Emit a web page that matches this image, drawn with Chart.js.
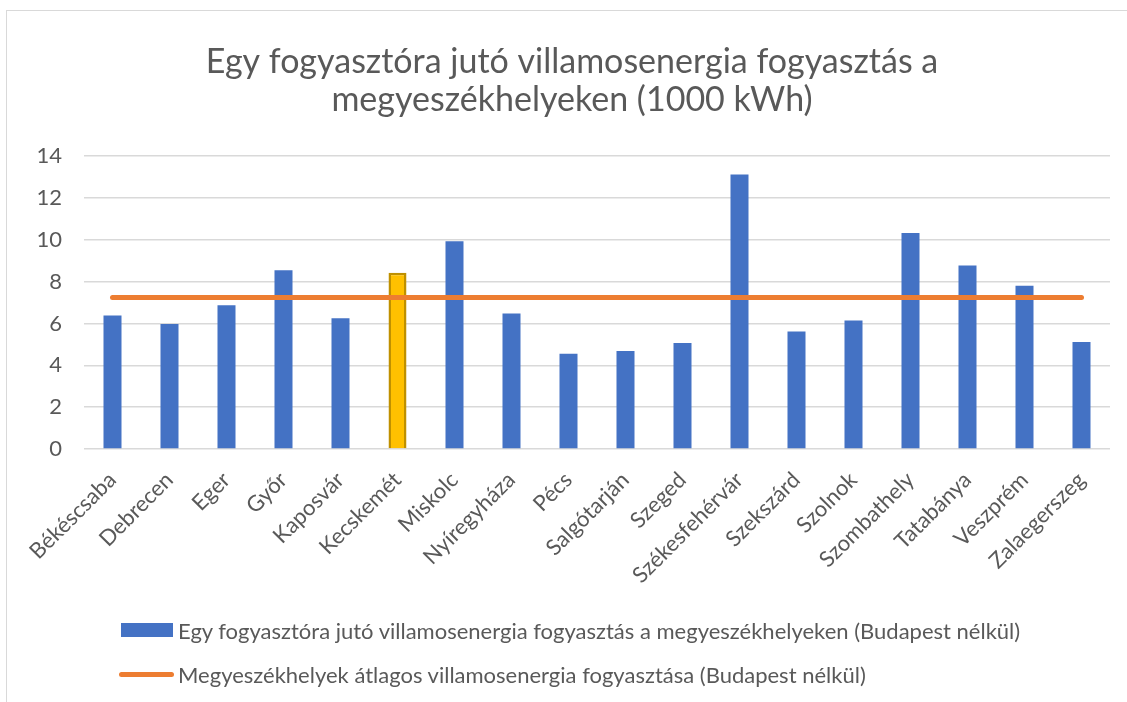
<!DOCTYPE html>
<html>
<head>
<meta charset="utf-8">
<script src="https://cdn.jsdelivr.net/npm/chart.js@4.4.1/dist/chart.umd.min.js"></script>
<style>
  body { margin: 0; background: #fff; font-family: Lato, sans-serif; }
  #wrap { position: relative; width: 1127px; height: 702px; overflow: hidden; }
  #frame { position: absolute; left: 6px; top: 10px; width: 1200px; height: 800px; border: 1.5px solid #d9d9d9; }
  #chart { position: absolute; left: 0; top: 0; }
  .leg { position: absolute; left: 119px; height: 30px; color: #595959; font-size: 22px; display: flex; align-items: center; white-space: nowrap; }
  .leg .box { width: 52px; height: 14px; background: #4472C4; margin-left: 2px; margin-right: 5px; }
  .leg .ln { width: 55px; height: 5px; border-radius: 3px; background: #ED7D31; margin-right: 4px; }
</style>
</head>
<body>
<div id="wrap">
  <div id="frame"></div>
  <canvas id="chart" width="1127" height="702"></canvas>
  <div class="leg" style="top:615px"><span class="box"></span><span id="leg1"></span></div>
  <div class="leg" style="top:659px"><span class="ln"></span><span id="leg2"></span></div>
</div>
<script>
// adatok
const cities = ['Békéscsaba', 'Debrecen', 'Eger', 'Győr', 'Kaposvár', 'Kecskemét', 'Miskolc', 'Nyíregyháza', 'Pécs',
  'Salgótarján', 'Szeged', 'Székesfehérvár', 'Szekszárd', 'Szolnok', 'Szombathely', 'Tatabánya', 'Veszprém', 'Zalaegerszeg'];
const consumption = [6.38, 5.97, 6.87, 8.54, 6.25, 8.42, 9.93, 6.48, 4.55, 4.69, 5.07, 13.12, 5.62, 6.14, 10.33, 8.77, 7.8, 5.11];
const average = [7.24, 7.24, 7.24, 7.24, 7.24, 7.24, 7.24, 7.24, 7.24, 7.24, 7.24, 7.24, 7.24, 7.24, 7.24, 7.24, 7.24, 7.24];
const yTicks = [0, 2, 4, 6, 8, 10, 12, 14];
const highlighted = 'Kecskemét';

const titleLines = ['Egy fogyasztóra jutó villamosenergia fogyasztás a', 'megyeszékhelyeken (1000 kWh)'];
const barLabel = 'Egy fogyasztóra jutó villamosenergia fogyasztás a megyeszékhelyeken (Budapest nélkül)';
const lineLabel = 'Megyeszékhelyek átlagos villamosenergia fogyasztása (Budapest nélkül)';

document.getElementById('leg1').textContent = barLabel;
document.getElementById('leg2').textContent = lineLabel;

const textColor = '#595959';
const barColors = cities.map(c => c === highlighted ? '#FFC000' : '#4472C4');
const barBorders = cities.map(c => c === highlighted ? '#BF9000' : '#4472C4');
const barBorderW = cities.map(c => c === highlighted ? 2.5 : 0);

const ctx = document.getElementById('chart').getContext('2d');
new Chart(ctx, {
  type: 'bar',
  data: {
    labels: cities,
    datasets: [
      {
        type: 'line',
        label: lineLabel,
        data: average,
        borderColor: '#ED7D31',
        borderWidth: 5,
        borderCapStyle: 'round',
        pointRadius: 0,
        fill: false,
        order: 0
      },
      {
        label: barLabel,
        data: consumption,
        backgroundColor: barColors,
        borderColor: barBorders,
        borderWidth: barBorderW,
        barPercentage: 0.316,
        categoryPercentage: 1,
        order: 1
      }
    ]
  },
  options: {
    responsive: false,
    animation: false,
    // left padding pushes the title centre over the frame, the y axis width makes up for it
    layout: { padding: { left: 34, right: 17, top: 0, bottom: 103 } },
    plugins: {
      legend: { display: false },
      tooltip: { enabled: false },
      title: {
        display: true,
        text: titleLines,
        color: textColor,
        font: { family: 'Lato', size: 34, weight: 'normal', lineHeight: 1.09 },
        padding: { top: 44, bottom: 38 }
      }
    },
    scales: {
      x: {
        grid: { display: false },
        border: { display: false },
        ticks: {
          color: textColor,
          font: { family: 'Lato', size: 22 },
          minRotation: 45,
          maxRotation: 45,
          autoSkip: false,
          padding: 10
        },
        afterFit: s => { s.height = 150; }
      },
      y: {
        min: 0,
        max: 14,
        afterBuildTicks: s => { s.ticks = yTicks.map(v => ({ value: v })); },
        grid: { color: '#d9d9d9', lineWidth: 1.5, drawTicks: false },
        border: { display: false },
        ticks: {
          color: textColor,
          font: { family: 'Lato', size: 22 },
          padding: 22
        },
        afterFit: s => { s.width = 50; }
      }
    }
  }
});
</script>
</body>
</html>
